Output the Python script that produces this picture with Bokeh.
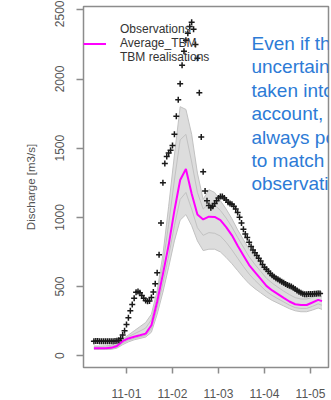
from bokeh.plotting import figure
from bokeh.models import FixedTicker, Legend, LegendItem, Label
from bokeh.embed import file_html
from bokeh.resources import INLINE

# ---- data (time in hours since 11-01 00:00) ----
obs_hours = list(range(-17, 103))
obs_q = [105, 106, 106, 105, 105, 104, 104, 104, 104, 104, 105, 106, 108, 112, 125, 150, 180,
         225, 275, 325, 370, 415, 458, 465, 455, 435, 415, 400, 393, 395, 420, 460, 520, 600,
         730, 960, 1250, 1390, 1440, 1465, 1485, 1520, 1600, 1730, 1850, 1965, 2100, 2200,
         2280, 2330, 2380, 2410, 2360, 2250, 2150, 1900, 1580, 1330, 1190, 1120, 1085, 1070,
         1080, 1100, 1120, 1140, 1150, 1150, 1140, 1125, 1110, 1100, 1095, 1080, 1060, 1035,
         1000, 960, 915, 880, 855, 820, 790, 765, 745, 725, 705, 685, 660, 640, 625, 610, 595,
         582, 570, 560, 552, 543, 535, 527, 519, 512, 506, 500, 492, 482, 472, 462, 455, 448,
         445, 445, 446, 446, 447, 448, 448, 449, 450]

model_hours = [-17, -14, -11, -8, -5, -2, 1, 4, 7, 10, 13, 16, 19, 22, 25, 28, 31, 34, 37, 40,
               43, 46, 49, 52, 55, 58, 61, 64, 67, 70, 73, 76, 79, 82, 85, 88, 91, 94, 97, 100, 102]
avg_tbm = [55, 55, 55, 57, 70, 105, 125, 137, 148, 160, 220, 390, 590, 800, 1050, 1270, 1350,
           1170, 1020, 985, 1005, 1003, 980, 930, 870, 795, 725, 655, 605, 555, 505, 472, 445,
           418, 392, 372, 366, 367, 385, 404, 395]
real_hi = [70, 70, 72, 75, 90, 120, 150, 180, 210, 240, 300, 470, 730, 1080, 1450, 1800, 1780,
           1600, 1320, 1130, 1200, 1180, 1120, 1060, 990, 910, 840, 770, 715, 665, 615, 575, 545,
           515, 490, 470, 455, 455, 460, 470, 460]
real_mid_hi = [62, 62, 63, 66, 80, 112, 138, 158, 178, 200, 260, 430, 660, 950, 1270, 1560, 1600,
               1400, 1180, 1060, 1100, 1090, 1050, 995, 930, 855, 785, 715, 660, 610, 560, 525,
               495, 467, 442, 420, 410, 410, 422, 437, 428]
real_mid_lo = [50, 50, 50, 51, 62, 92, 112, 126, 136, 148, 195, 345, 525, 720, 940, 1130, 1180,
               1060, 925, 870, 890, 885, 865, 820, 765, 705, 645, 590, 545, 505, 465, 436, 412,
               389, 366, 348, 342, 342, 357, 375, 365]
real_lo = [45, 45, 45, 46, 55, 80, 100, 115, 125, 135, 170, 300, 460, 640, 830, 980, 1020, 940,
           830, 760, 770, 770, 750, 710, 665, 615, 565, 520, 485, 455, 425, 400, 380, 360, 340,
           325, 318, 318, 330, 345, 335]

tick_hours = [0, 24, 48, 72, 96]
tick_labels = ["11-01", "11-02", "11-03", "11-04", "11-05"]
y_ticks = [0, 500, 1000, 1500, 2000, 2500]
# the note is cut off at the right edge in the reference; visible parts only
note_lines = ["Even if th", "uncertain", "taken into", "account,",
              "always po", "to match", "observati"]

FONT = "Liberation Sans"
GREY = "#8c8c8c"

p = figure(width=331, height=400, output_backend="svg", toolbar_location=None,
           x_range=(-22.43, 105.39), y_range=(-85, 2524))
p.min_border_left = 83
p.min_border_right = 3
p.min_border_top = 6
p.min_border_bottom = 31
p.background_fill_color = "white"
p.border_fill_color = "white"
p.outline_line_color = GREY
p.outline_line_width = 1.5
p.xgrid.visible = False
p.ygrid.visible = False

# realisations band and lines
p.varea(x=model_hours, y1=real_lo, y2=real_hi, fill_color="#d9d9d9", fill_alpha=0.9)
for r in (real_hi, real_mid_hi, real_mid_lo, real_lo):
    p.line(model_hours, r, line_color="#c2c2c2", line_width=1)

avg_r = p.line(model_hours, avg_tbm, line_color="#ff00ff", line_width=2)
p.scatter(obs_hours, obs_q, marker="cross", size=6, line_color="#1a1a1a", line_width=1.5)

# legend proxies
obs_leg = p.scatter(x=[], y=[], marker="circle", size=2, fill_color="#999999", line_color="#999999")
real_leg = p.line(x=[], y=[], line_color="#d4d4d4", line_width=2)

legend = Legend(items=[LegendItem(label="Observations", renderers=[obs_leg]),
                       LegendItem(label="Average_TBM", renderers=[avg_r]),
                       LegendItem(label="TBM realisations", renderers=[real_leg])],
                location=(0, 303))
legend.background_fill_alpha = 0
legend.border_line_color = None
legend.margin = 0
legend.padding = 4
legend.spacing = 0
legend.glyph_width = 23
legend.glyph_height = 13
legend.label_height = 13
legend.label_standoff = 14
legend.label_text_font = FONT
legend.label_text_font_size = "12px"
legend.label_text_line_height = 1.1
legend.label_text_color = "#333333"
p.add_layout(legend)

# axes
xa = p.xaxis[0]
xa.ticker = FixedTicker(ticks=tick_hours, minor_ticks=[])
xa.major_label_overrides = {h: lab for h, lab in zip(tick_hours, tick_labels)}
ya = p.yaxis[0]
ya.ticker = FixedTicker(ticks=y_ticks, minor_ticks=[])
ya.major_label_overrides = {v: str(v) for v in y_ticks}
ya.major_label_orientation = "vertical"
ya.axis_label = "Discharge [m3/s]"
for ax in (xa, ya):
    ax.axis_line_color = None
    ax.major_tick_line_color = GREY
    ax.major_tick_line_width = 1.5
    ax.major_tick_in = 0
    ax.minor_tick_line_color = None
    ax.major_label_text_font = FONT
    ax.major_label_text_font_size = "12px"
    ax.major_label_text_color = "#555555"
    ax.axis_label_text_font = FONT
    ax.axis_label_text_font_size = "11.5px"
    ax.axis_label_text_font_style = "normal"
    ax.axis_label_text_color = "#555555"
xa.major_tick_out = 6
xa.major_label_standoff = 15
ya.major_tick_out = 7
ya.major_label_standoff = 12
ya.axis_label_standoff = 16

# note text
for i, line in enumerate(note_lines):
    p.add_layout(Label(x=65.2, y=2256 - i * 169, text=line, text_font=FONT,
                       text_font_size="19px", text_color="#2d7bd6", text_baseline="middle"))

open("out.html", "w").write(file_html(p, INLINE))
